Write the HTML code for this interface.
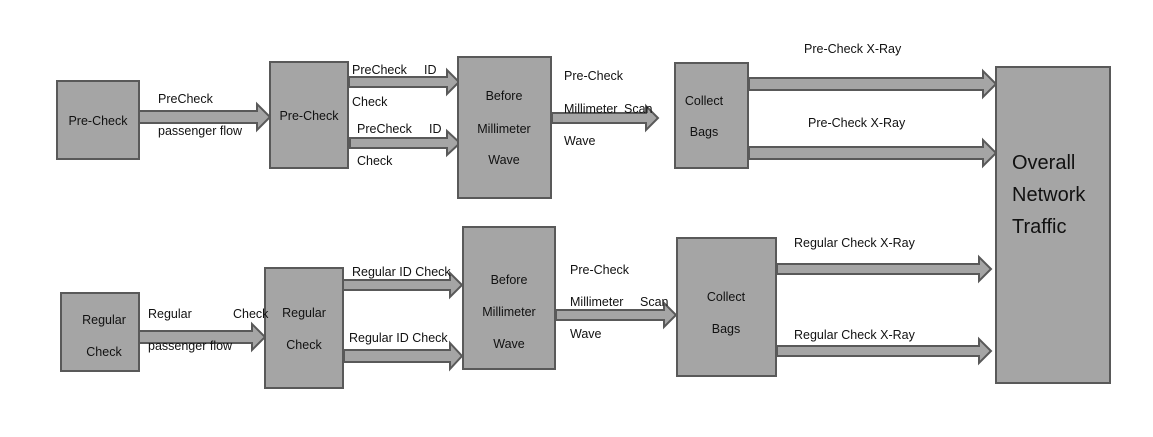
<!DOCTYPE html>
<html><head><meta charset="utf-8"><style>
html,body{margin:0;padding:0;background:#fff;}
svg{display:block;}
text{font-family:"Liberation Sans","Noto Sans CJK SC",sans-serif;font-size:12.5px;fill:#111;}
.b{fill:#a5a5a5;stroke:#595959;stroke-width:2;}
.a{fill:#a5a5a5;stroke:#595959;stroke-width:2;stroke-linejoin:miter;}
</style></head><body>
<svg width="1153" height="437" viewBox="0 0 1153 437" xmlns="http://www.w3.org/2000/svg">
<!-- arrows -->
<polygon class="a" points="139,111 257,111 257,104 270,117 257,130 257,123 139,123"/>
<polygon class="a" points="349,77 447,77 447,70 459,82 447,94 447,87 349,87"/>
<polygon class="a" points="350,138 447,138 447,131 460,143 447,155 447,148 350,148"/>
<polygon class="a" points="552,113 646,113 646,106 658,118 646,130 646,123 552,123"/>
<polygon class="a" points="749,78 983,78 983,71 996,84 983,97 983,90 749,90"/>
<polygon class="a" points="749,147 983,147 983,140 996,153 983,166 983,159 749,159"/>
<polygon class="a" points="139,331 252,331 252,324 265,337 252,350 252,343 139,343"/>
<polygon class="a" points="343,280 450,280 450,273 462,285 450,297 450,290 343,290"/>
<polygon class="a" points="344,350 450,350 450,343 462,356 450,369 450,362 344,362"/>
<polygon class="a" points="556,310 664,310 664,303 676,315 664,327 664,320 556,320"/>
<polygon class="a" points="777,264 979,264 979,257 991,269 979,281 979,274 777,274"/>
<polygon class="a" points="777,346 979,346 979,339 991,351 979,363 979,356 777,356"/>
<!-- boxes -->
<rect class="b" x="57" y="81" width="82" height="78"/>
<rect class="b" x="270" y="62" width="78" height="106"/>
<rect class="b" x="458" y="57" width="93" height="141"/>
<rect class="b" x="675" y="63" width="73" height="105"/>
<rect class="b" x="996" y="67" width="114" height="316"/>
<rect class="b" x="61" y="293" width="78" height="78"/>
<rect class="b" x="265" y="268" width="78" height="120"/>
<rect class="b" x="463" y="227" width="92" height="142"/>
<rect class="b" x="677" y="238" width="99" height="138"/>
<!-- box labels -->
<text x="98" y="125" text-anchor="middle">Pre-Check</text>
<text x="309" y="120" text-anchor="middle">Pre-Check</text>
<text x="504" y="100" text-anchor="middle">Before</text>
<text x="504" y="133" text-anchor="middle">Millimeter</text>
<text x="504" y="164" text-anchor="middle">Wave</text>
<text x="704" y="105" text-anchor="middle">Collect</text>
<text x="704" y="136" text-anchor="middle">Bags</text>
<text x="1012" y="169" style="font-size:20px">Overall</text>
<text x="1012" y="201" style="font-size:20px">Network</text>
<text x="1012" y="233" style="font-size:20px">Traffic</text>
<text x="104" y="324" text-anchor="middle">Regular</text>
<text x="104" y="356" text-anchor="middle">Check</text>
<text x="304" y="317" text-anchor="middle">Regular</text>
<text x="304" y="349" text-anchor="middle">Check</text>
<text x="509" y="284" text-anchor="middle">Before</text>
<text x="509" y="316" text-anchor="middle">Millimeter</text>
<text x="509" y="348" text-anchor="middle">Wave</text>
<text x="726" y="301" text-anchor="middle">Collect</text>
<text x="726" y="333" text-anchor="middle">Bags</text>
<!-- arrow labels -->
<text x="158" y="103">PreCheck</text>
<text x="158" y="135">passenger flow</text>
<text x="352" y="74">PreCheck</text><text x="424" y="74">ID</text>
<text x="352" y="106">Check</text>
<text x="357" y="133">PreCheck</text><text x="429" y="133">ID</text>
<text x="357" y="165">Check</text>
<text x="564" y="80">Pre-Check</text>
<text x="564" y="113">Millimeter</text><text x="624" y="113">Scan</text>
<text x="564" y="145">Wave</text>
<text x="804" y="53">Pre-Check X-Ray</text>
<text x="808" y="127">Pre-Check X-Ray</text>
<text x="148" y="318">Regular</text><text x="233" y="318">Check</text>
<text x="148" y="350">passenger flow</text>
<text x="352" y="276">Regular ID Check</text>
<text x="349" y="342">Regular ID Check</text>
<text x="570" y="274">Pre-Check</text>
<text x="570" y="306">Millimeter</text><text x="640" y="306">Scan</text>
<text x="570" y="338">Wave</text>
<text x="794" y="247">Regular Check X-Ray</text>
<text x="794" y="339">Regular Check X-Ray</text>
</svg>
</body></html>
